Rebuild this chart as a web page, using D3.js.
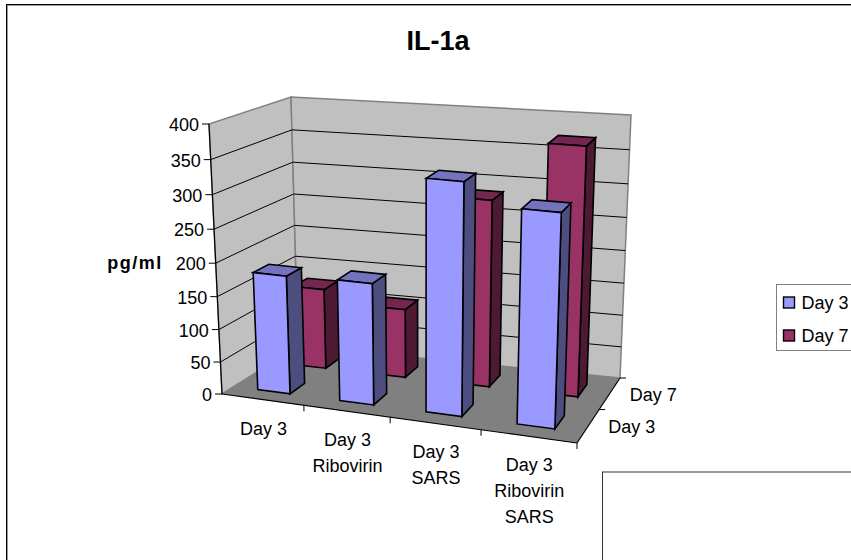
<!DOCTYPE html>
<html>
<head>
<meta charset="utf-8">
<script src="https://cdn.jsdelivr.net/npm/d3@7"></script>
<style>
html,body{margin:0;padding:0;background:#fff}
text{font-family:"Liberation Sans",Arial,sans-serif;fill:#000}
</style>
</head>
<body>
<svg id="chart" width="851" height="560" style="display:block"></svg>
<script>
const categories = [["Day 3"], ["Day 3", "Ribovirin"], ["Day 3", "SARS"], ["Day 3", "Ribovirin", "SARS"]];
const seriesNames = ["Day 3", "Day 7"];
const day3Values = [181, 184, 343, 313];
const day7Values = [127, 108, 286, 374];
const valueTicks = [0, 50, 100, 150, 200, 250, 300, 350, 400];

const frontFill = ["#9999ff", "#993366"];
const topFill = ["#7373bf", "#732650"];
const sideFill = ["#4d4d80", "#4d1933"];

const svg = d3.select("#chart");

// Corners of the 3D plot box on screen: front/back, left/right, bottom/top
const box = {
  flb: [222, 394], flt: [209, 124], frb: [577, 443], frt: [587, 158],
  blb: [298, 346], blt: [291, 97], brb: [620, 378], brt: [631, 115]
};

const heightScale = d3.scaleLinear().domain([0, 400]).range([0, 1]);
const catScale = d3.scaleBand().domain(d3.range(categories.length)).range([0, 1]).padding(0);
const depthScale = d3.scaleBand().domain(d3.range(seriesNames.length)).range([0, 1]).padding(0);

// Foreshortening along the width, depth and height directions
const persp = (t, k) => k * t / (1 + (k - 1) * t);

function project(u, value, v) {
  const a = persp(u, 0.9), b = persp(v, 1.06), c = persp(heightScale(value), 0.94);
  const lerp = (p, q, t) => [p[0] + (q[0] - p[0]) * t, p[1] + (q[1] - p[1]) * t];
  const bottom = lerp(lerp(box.flb, box.frb, a), lerp(box.blb, box.brb, a), b);
  const top = lerp(lerp(box.flt, box.frt, a), lerp(box.blt, box.brt, a), b);
  return lerp(bottom, top, c);
}

const poly = (pts, fill, stroke, sw) => svg.append("polygon")
  .attr("points", pts.map(p => p.map(n => n.toFixed(2)).join(",")).join(" "))
  .attr("fill", fill).attr("stroke", stroke || "none").attr("stroke-width", sw || 0)
  .attr("stroke-linejoin", "miter");
const seg = (p, q, stroke, sw) => svg.append("line")
  .attr("x1", p[0]).attr("y1", p[1]).attr("x2", q[0]).attr("y2", q[1])
  .attr("stroke", stroke).attr("stroke-width", sw);

// Outer chart frame: dark line with a grey inner edge
svg.append("rect").attr("x", 7.5).attr("y", 5.5).attr("width", 900).attr("height", 600)
  .attr("fill", "#fff").attr("stroke", "#999").attr("stroke-width", 1);
svg.append("rect").attr("x", 6.5).attr("y", 4.5).attr("width", 900).attr("height", 600)
  .attr("fill", "none").attr("stroke", "#000").attr("stroke-width", 1);

svg.append("text").attr("x", 438).attr("y", 50).attr("text-anchor", "middle")
  .attr("font-size", 27).attr("font-weight", "bold").text("IL-1a");

// Walls and floor
poly([project(0,0,0), project(0,400,0), project(0,400,1), project(0,0,1)], "#c0c0c0", "#808080", 1.5);
poly([project(0,0,1), project(0,400,1), project(1,400,1), project(1,0,1)], "#c0c0c0", "#808080", 1.5);
poly([project(0,0,0), project(0,0,1), project(1,0,1), project(1,0,0)], "#808080");

// Gridlines run around the left and back walls
valueTicks.filter(d => d > 0 && d < 400).forEach(d => {
  seg(project(0,d,0), project(0,d,1), "#000", 1);
  seg(project(0,d,1), project(1,d,1), "#000", 1);
});

// Front axis lines
seg(project(0,0,0), project(0,400,0), "#000", 1.2);
seg(project(0,0,0), project(1,0,0), "#000", 1.2);
seg(project(1,0,0), project(1,0,1), "#000", 1.2);

// Value axis ticks and labels
valueTicks.forEach(d => {
  const p = project(0, d, 0);
  seg([p[0] - 7, p[1]], p, "#000", 1);
  svg.append("text").attr("x", p[0] - 10).attr("y", p[1] + 7).attr("text-anchor", "end")
    .attr("font-size", 18).text(d);
});

svg.append("text").attr("x", 135).attr("y", 269).attr("text-anchor", "middle")
  .attr("font-size", 18).attr("font-weight", "bold").attr("letter-spacing", 1.5).text("pg/ml");

// Category ticks and labels
categories.forEach((lines, i) => {
  const pEnd = project(catScale(i) + catScale.bandwidth(), 0, 0);
  seg(pEnd, [pEnd[0], pEnd[1] + 6], "#000", 1);
  const mid = project(catScale(i) + catScale.bandwidth() / 2, 0, 0);
  lines.forEach((line, j) => {
    svg.append("text").attr("x", mid[0] + 1).attr("y", mid[1] + 35 + j * 26)
      .attr("text-anchor", "middle").attr("font-size", 18).text(line);
  });
});

// Depth axis ticks and labels
seriesNames.forEach((name, i) => {
  const pEnd = project(1, 0, depthScale(i) + depthScale.bandwidth());
  seg(pEnd, [pEnd[0] + 6, pEnd[1]], "#000", 1);
  const mid = project(1, 0, depthScale(i) + depthScale.bandwidth() / 2);
  svg.append("text").attr("x", mid[0] + 20).attr("y", mid[1] + 7)
    .attr("font-size", 18).text(name);
});

// Bars, back row first so the front row overlaps it
const rows = [day3Values, day7Values];
[1, 0].forEach(s => {
  rows[s].forEach((value, i) => {
    const bw = catScale.bandwidth(), dw = depthScale.bandwidth();
    const u0 = catScale(i) + bw * 0.3, u1 = catScale(i) + bw * 0.7;
    const v0 = depthScale(s) + dw * 0.3, v1 = depthScale(s) + dw * 0.7;
    poly([project(u1,0,v0), project(u1,value,v0), project(u1,value,v1), project(u1,0,v1)], sideFill[s], "#000", 1.6);
    poly([project(u0,value,v0), project(u0,value,v1), project(u1,value,v1), project(u1,value,v0)], topFill[s], "#000", 1.6);
    poly([project(u0,0,v0), project(u0,value,v0), project(u1,value,v0), project(u1,0,v0)], frontFill[s], "#000", 1.6);
  });
});

// Legend box, cut by the right edge of the chart
svg.append("rect").attr("x", 776.5).attr("y", 284.5).attr("width", 90).attr("height", 66)
  .attr("fill", "#fff").attr("stroke", "#808080").attr("stroke-width", 1);
seriesNames.forEach((name, i) => {
  const y = 302.5 + i * 33;
  svg.append("rect").attr("x", 783.5).attr("y", y - 5.5).attr("width", 11).attr("height", 11)
    .attr("fill", frontFill[i]).attr("stroke", "#000").attr("stroke-width", 1.4);
  svg.append("text").attr("x", 801.5).attr("y", y + 6).attr("font-size", 18).text(name);
});

// Blank panel over the lower right corner
svg.append("rect").attr("x", 602.5).attr("y", 472).attr("width", 300).attr("height", 120)
  .attr("fill", "#fff").attr("stroke", "#333").attr("stroke-width", 1);
</script>
</body>
</html>
